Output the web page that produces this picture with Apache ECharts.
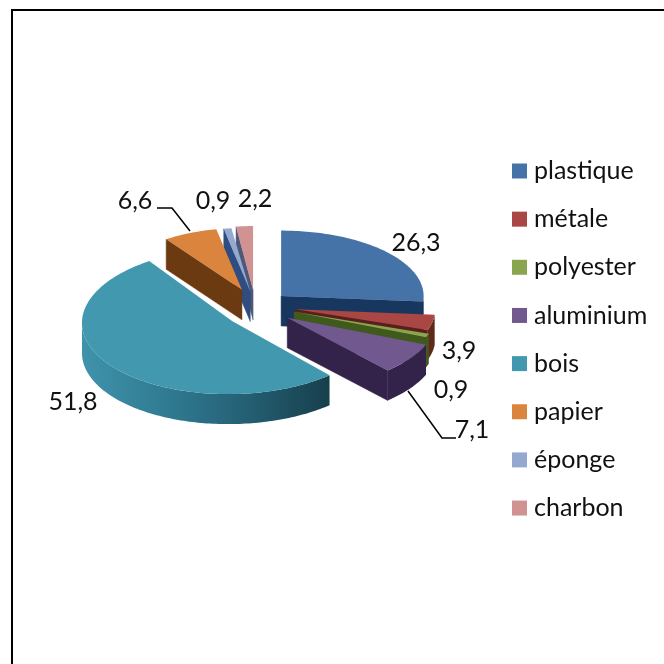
<!DOCTYPE html>
<html>
<head>
<meta charset="utf-8">
<style>html,body{margin:0;padding:0;background:#fff}#chart{width:664px;height:664px}</style>
<script src="https://cdn.jsdelivr.net/npm/echarts@6/dist/echarts.min.js"></script>
</head>
<body>
<div id="chart"></div>
<script>
// Share of each material, in percent
const categories = ['plastique', 'métale', 'polyester', 'aluminium', 'bois', 'papier', 'éponge', 'charbon'];
const values = [26.3, 3.9, 0.9, 7.1, 51.8, 6.6, 0.9, 2.2];

// Face colours per slice
const topColors = ['#4572A7', '#AA4643', '#89A54E', '#71588F', '#4198AF', '#DB843D', '#93A9CF', '#D19392'];
const cutColors = ['#17375e', '#5a1f1d', '#3f5a1c', '#33224a', '#1d4f5e', '#6b3a10', '#2f4d80', '#4f5878'];
const rimColors = ['#17375e', '#5f2a1a', '#46581f', '#33224a', '#2a6f85', '#6b3a10', '#2f4d80', '#4f5878'];

// Projection of the tilted disc
const center = [259, 305.5];
const radiusX = 150;
const radiusY = 71;
const depth = 30;
// How far each slice is pulled out of the disc, sideways and along the tilt
const explodeX = [0.2, 0.25, 0.25, 0.23, 0.23, 0.29, 0.35, 0.57];
const explodeY = [0.2, 0.25, 0.25, 0.3, 0.35, 0.24, 0.2, 0.22];
const sizeX = [0.95, 0.93, 0.95, 1, 1, 0.88, 0.91, 0.82];
const sizeY = [0.92, 0.9, 0.95, 1, 1.03, 0.87, 0.9, 0.9];
const slant = [0, 0, 0, 0, 4, 0, 0, 0];
const paintOrder = [0, 7, 6, 5, 1, 2, 3, 4];

// Value labels, anchored by hand beside each slice
const labelAnchors = [[416, 243], [459, 351], [451, 390], [472, 430], [73, 402], [135, 201], [213, 201], [255, 199]];
const leaderLines = [
  [[157, 208], [172, 208], [190, 231]],
  [[408, 391], [442, 438], [456, 438]]
];

const FONT = 'Lato, "Open Sans", sans-serif';
const FONT_SIZE = 25;

const total = values.reduce((a, b) => a + b, 0);
function sliceAngles(i) {
  const before = values.slice(0, i).reduce((a, b) => a + b, 0);
  return [before / total * Math.PI * 2, (before + values[i]) / total * Math.PI * 2];
}

function renderSlice(i, params, api) {
  const [a, b] = sliceAngles(i);
  const mid = (a + b) / 2;
  const ax = center[0] + explodeX[i] * radiusX * Math.sin(mid);
  const ay = center[1] - explodeY[i] * radiusY * Math.cos(mid);
  const rx = radiusX * sizeX[i], ry = radiusY * sizeY[i];
  const rim = t => [ax + rx * Math.sin(t) + slant[i] * Math.cos(t), ay - ry * Math.cos(t)];
  const drop = p => [p[0], p[1] + depth];
  const steps = Math.max(6, Math.ceil((b - a) / 0.02));
  const arc = [];
  for (let s = 0; s <= steps; s++) arc.push(a + (b - a) * s / steps);

  const children = [];
  const poly = (points, fill) => children.push({
    type: 'polygon',
    shape: { points },
    style: { fill, stroke: fill === topColors[i] ? null : fill, lineWidth: 0.5 }
  });
  const apex = [ax, ay];
  // The two cut faces, when they turn towards the viewer
  if (a > Math.PI) poly([apex, rim(a), drop(rim(a)), drop(apex)], cutColors[i]);
  if (b < Math.PI) poly([apex, rim(b), drop(rim(b)), drop(apex)], cutColors[i]);
  // Outer wall along the front of the rim
  const front = arc.filter(t => t >= Math.PI / 2 && t <= Math.PI * 1.5);
  if (front.length > 1) {
    const pts = front.map(rim);
    const wall = pts.concat(pts.slice().reverse().map(drop));
    let fill = rimColors[i];
    if (categories[i] === 'bois') {
      fill = new echarts.graphic.LinearGradient(0, 0, 1, 0, [
        { offset: 0, color: '#3f93ab' },
        { offset: 0.35, color: '#2f7a91' },
        { offset: 0.6, color: '#27657a' },
        { offset: 1, color: '#173f4c' }
      ]);
    }
    children.push({ type: 'polygon', shape: { points: wall }, style: { fill } });
  }
  // Top face
  poly([apex].concat(arc.map(rim)), topColors[i]);
  return { type: 'group', children };
}

const series = categories.map((name, i) => ({
  type: 'custom',
  name,
  coordinateSystem: 'none',
  z: 2 + paintOrder.indexOf(i),
  silent: true,
  animation: false,
  itemStyle: { color: topColors[i] },
  data: [[values[i]]],
  renderItem: (params, api) => renderSlice(i, params, api)
}));

const chart = echarts.init(document.getElementById('chart'), null, { renderer: 'canvas' });
chart.setOption({
  animation: false,
  backgroundColor: '#fff',
  legend: {
    orient: 'vertical',
    left: 512,
    top: 158,
    icon: 'rect',
    itemWidth: 15,
    itemHeight: 15,
    itemGap: 22.15,
    padding: 0,
    selectedMode: false,
    textStyle: { fontFamily: FONT, fontSize: FONT_SIZE, color: '#111', padding: [0, 0, 0, 2], lineHeight: 26 },
    data: categories
  },
  graphic: [
    { type: 'rect', shape: { x: 12, y: 10, width: 700, height: 700 }, style: { fill: 'none', stroke: '#000', lineWidth: 2 }, z: 0 },
    ...leaderLines.map(points => ({
      type: 'polyline', shape: { points }, style: { stroke: '#000', lineWidth: 1.5, fill: 'none' }, z: 50
    })),
    ...values.map((v, i) => ({
      type: 'text',
      x: labelAnchors[i][0],
      y: labelAnchors[i][1],
      z: 50,
      style: {
        text: String(v).replace('.', ','),
        fontFamily: FONT,
        fontSize: FONT_SIZE,
        fill: '#111',
        align: 'center',
        verticalAlign: 'middle'
      }
    }))
  ],
  series
});
</script>
</body>
</html>
